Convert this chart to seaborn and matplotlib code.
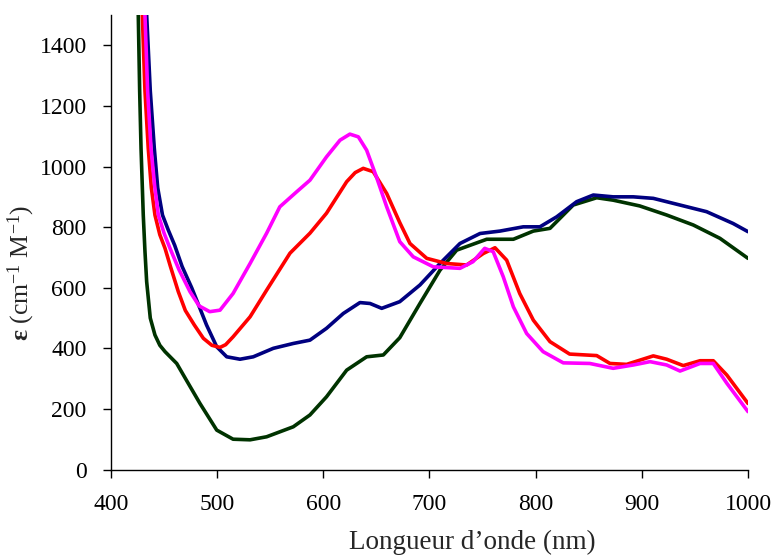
import numpy as np
import pandas as pd
import matplotlib
matplotlib.use('Agg')
import matplotlib.pyplot as plt
import seaborn as sns

# Spectra (wavelength nm, epsilon)
red_x = [428.5, 429.5, 432, 435.1, 438, 441.4, 446, 450.9, 456, 463.4, 470, 478.5, 487, 495,
         502.7, 508, 515, 531, 546.6, 568.6, 587.4, 603, 622, 630, 637.6, 647, 659.7, 672,
         681.6, 697.4, 716, 735, 750.7, 761.7, 772.7, 785, 797.8, 813.5, 832, 857.5, 870,
         885.7, 910.8, 923.4, 939, 954.8, 967.3, 980, 1000]
red_y = [1650, 1500, 1250, 1060, 930, 840, 775, 730, 670, 587, 525, 477, 433, 410,
         403, 412, 438, 504, 592, 714, 780, 846, 950, 980, 994, 983, 911, 815,
         746, 697, 680, 675, 713, 732, 691, 581, 493, 422, 381, 376, 350,
         347, 375, 364, 343, 359, 359, 312, 218]

magenta_x = [431, 432, 434.5, 437.7, 441, 444.6, 450, 455.6, 464, 474.4, 483, 493, 502.7, 515,
             531, 546.6, 559, 575, 587.4, 603, 615.7, 625, 633, 640.8, 650, 659.7, 672, 684.7,
             703.6, 728.7, 741, 752, 760, 769.5, 779, 791.5, 807, 826, 851, 873, 892, 907.7,
             923.4, 936, 954.8, 967.3, 980, 1000]
magenta_y = [1650, 1500, 1250, 1060, 940, 840, 780, 730, 660, 587, 540, 521, 526, 581,
             680, 780, 867, 917, 955, 1032, 1087, 1107, 1098, 1054, 966, 867, 752, 702,
             669, 664, 686, 730, 719, 636, 537, 449, 389, 352, 350, 334, 345, 356,
             345, 325, 350, 350, 285, 191]

navy_x = [432.5, 433.6, 437, 440.8, 444, 448.5, 454, 460, 467, 476, 480.7, 490, 499.6, 509,
          521.5, 534, 552.9, 571.7, 587.4, 603, 618.8, 634.5, 644, 655, 672, 691, 709.9, 728.7,
          747.6, 766.4, 788.3, 804, 819.8, 838.6, 854.3, 873, 892, 910.8, 935.9, 961, 986, 1000]
navy_y = [1650, 1500, 1250, 1060, 930, 840, 790, 740, 670, 600, 559, 477, 405, 372,
          364, 372, 400, 416, 427, 466, 515, 551, 548, 532, 554, 609, 680, 746,
          779, 787, 801, 801, 834, 884, 906, 900, 900, 895, 873, 851, 812, 785]

green_x = [424.5, 425.7, 427, 428.3, 430.4, 432, 433.6, 437, 441.4, 446, 450.9, 461.9, 471,
           483.8, 499.6, 515, 531, 546.6, 571.7, 587.4, 603, 622, 640.8, 656.5, 672, 691,
           709.9, 725.6, 753.9, 779, 797.8, 813.5, 835.4, 857.5, 873, 898, 923.4, 948.5,
           973.6, 1000]
green_y = [1650, 1500, 1250, 1060, 840, 720, 620, 500, 444, 410, 389, 350, 295,
           218, 130, 100, 98, 108, 141, 180, 240, 328, 372, 378, 435, 548,
           658, 724, 760, 760, 787, 796, 873, 897, 889, 870, 840, 807,
           763, 697]

series = {'red': (red_x, red_y), 'magenta': (magenta_x, magenta_y),
          'navy': (navy_x, navy_y), 'green': (green_x, green_y)}
palette = {'red': '#ff0000', 'magenta': '#ff00ff', 'navy': '#000080', 'green': '#003300'}

df = pd.concat([pd.DataFrame({'wl': x, 'eps': y, 'sample': k}) for k, (x, y) in series.items()],
               ignore_index=True)

sns.set_style('ticks')
plt.rcParams['font.family'] = ['Liberation Serif', 'DejaVu Serif']
plt.rcParams['mathtext.fontset'] = 'custom'
plt.rcParams['mathtext.rm'] = 'Liberation Serif'
plt.rcParams['mathtext.it'] = 'Liberation Serif:italic'
plt.rcParams['mathtext.bf'] = 'Liberation Serif:bold'

fig = plt.figure(figsize=(7.74, 5.58), dpi=100)
ax = fig.add_axes([0.1434, 0.1586, 0.823, 0.8144])

for name in ['green', 'navy', 'red', 'magenta']:
    sns.lineplot(data=df[df['sample'] == name], x='wl', y='eps', color=palette[name],
                 linewidth=2.6, sort=False, estimator=None, ax=ax,
                 solid_joinstyle='round', solid_capstyle='round')

ax.set_xlim(400, 1000)
ax.set_ylim(0, 1500)
ax.set_xticks(range(400, 1001, 100))
ax.set_yticks(range(0, 1401, 200))
ax.tick_params(axis='both', labelsize=17, length=5.5, width=1, color='black',
               labelcolor='black', pad=12)
for s in ['left', 'bottom']:
    ax.spines[s].set_linewidth(1)
    ax.spines[s].set_color('black')
sns.despine(ax=ax)

ax.set_xlabel('Longueur d\u2019onde (nm)', fontsize=19.5)
ax.set_ylabel('$\\mathbf{\u03b5}$ (cm$^{-1}$ M$^{-1}$)', fontsize=18.5)
ax.xaxis.set_label_coords(0.5675, -0.133)
ax.yaxis.set_label_coords(-0.116, 0.432)

fig.savefig('out.png', dpi=100)
